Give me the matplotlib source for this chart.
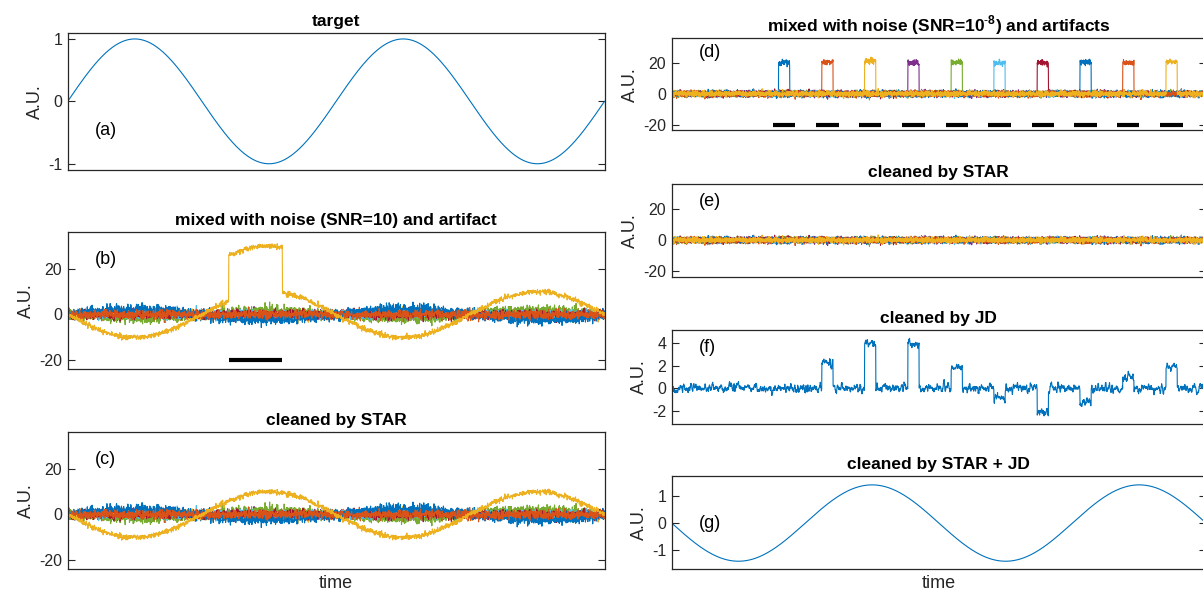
import numpy as np
import matplotlib
matplotlib.use("Agg")
import matplotlib.pyplot as plt

plt.rcParams["font.family"] = ["Liberation Sans", "DejaVu Sans"]
plt.rcParams["mathtext.fontset"] = "custom"
plt.rcParams["mathtext.rm"] = "Liberation Sans"
plt.rcParams["mathtext.bf"] = "Liberation Sans:bold"

# ==============================
# Values
# ==============================

# MATLAB default colour order, 10 channels
colors = ["#0072BD", "#D95319", "#EDB120", "#7E2F8E", "#77AC30",
          "#4DBEEE", "#A2142F", "#0072BD", "#D95319", "#EDB120"]

titles = ["target",
          "mixed with noise (SNR=10) and artifact",
          "cleaned by STAR",
          r"mixed with noise (SNR=10$^{\mathbf{\text{-}8}}$) and artifacts",
          "cleaned by STAR",
          "cleaned by JD",
          "cleaned by STAR + JD"]
letters = ["(a)", "(b)", "(c)", "(d)", "(e)", "(f)", "(g)"]
letter_y = [0.29, 0.80, 0.80, 0.84, 0.81, 0.81, 0.49]

target_amp = 1.0
target_cycles = 2
# gain of the target in each of the 10 mixed channels (panels b, c)
mix_gains = [0.4, 0.0, 0.5, 0.3, -2.0, 0.2, 0.0, 2.5, 0.0, -10.0]
mix_noise = [1.0, 1.0, 1.0, 1.0, 1.0, 1.0, 1.0, 1.1, 1.0, 0.6]
# one artifact in panel b, on the last (yellow) channel
b_art_start, b_art_end = 0.30, 0.40
b_art_height = 20

# panel d: one artifact per channel
d_art_start = [0.200, 0.281, 0.361, 0.442, 0.523, 0.603, 0.684, 0.764, 0.844, 0.925]
d_art_height = [20, 20.5, 21, 20, 20.5, 20, 20, 20.5, 20, 21]
d_art_width = 0.021
d_bar_len = 0.042
d_noise = 0.9

# panel f: JD output, residual level at each artifact window
f_levels = [0.0, 2.2, 4.0, 4.0, 1.8, -0.9, -2.2, -1.3, 0.9, 1.8]
f_noise = 0.22

# panel g: recovered target
g_amp = -1.42

ylims = [(-1.1, 1.1), (-24, 36), (-24, 36), (-23.5, 36), (-24, 36), (-3.2, 5.2), (-1.72, 1.75)]
yticks = [[-1, 0, 1], [-20, 0, 20], [-20, 0, 20], [-20, 0, 20], [-20, 0, 20],
          [-2, 0, 2, 4], [-1, 0, 1]]
ytlabels = [["-1", "0", "1"], ["-20", "0", "20"], ["-20", "0", "20"], ["-20", "0", "20"],
            ["-20", "0", "20"], ["-2", "0", "2", "4"], ["-1", "0", "1"]]

# ==============================
# Signals
# ==============================

rng = np.random.default_rng(7)
n = 2000
t = np.linspace(0, 1, n)
target = target_amp * np.sin(2 * np.pi * target_cycles * t)

clean_mix = [g * target + s * rng.standard_normal(n) for g, s in zip(mix_gains, mix_noise)]
art_mask = (t >= b_art_start) & (t < b_art_end)
dirty_mix = [c.copy() for c in clean_mix]
dirty_mix[-1][art_mask] += b_art_height

n_r = 3000
t_r = np.linspace(0, 1, n_r)
e_chans = [d_noise * rng.standard_normal(n_r) for _ in range(10)]
d_chans = []
for k, c in enumerate(e_chans):
    m = (t_r >= d_art_start[k]) & (t_r < d_art_start[k] + d_art_width)
    x = c.copy()
    x[m] += d_art_height[k]
    d_chans.append(x)

kern = np.ones(6) / 6
f_sig = np.convolve(rng.standard_normal(n_r), kern, mode="same") * f_noise * 2.2
for k, lev in enumerate(f_levels):
    m = (t_r >= d_art_start[k]) & (t_r < d_art_start[k] + d_art_width)
    f_sig[m] += lev

g_sig = g_amp * np.sin(2 * np.pi * target_cycles * t_r)

# ==============================
# Layout (pixel boxes: left, top, right, bottom)
# ==============================

W, H = 1203, 596
boxes = [(67.7, 32.7, 604.5, 170), (67.7, 232.3, 604.5, 369.3), (67.7, 432.3, 604.5, 569.3),
         (671.7, 38.3, 1206, 130), (671.7, 184.3, 1206, 277.3),
         (671.7, 330, 1206, 424), (671.7, 476, 1206, 569.3)]

fig = plt.figure(figsize=(W / 100, H / 100), dpi=100)
axes = []
for (l, tp, r, b) in boxes:
    axes.append(fig.add_axes([l / W, 1 - b / H, (r - l) / W, (b - tp) / H]))

dark = "#262626"
for i, ax in enumerate(axes):
    ax.set_xlim(0, 1)
    ax.set_ylim(*ylims[i])
    ax.set_xticks([])
    ax.set_yticks(yticks[i])
    ax.set_yticklabels(ytlabels[i])
    ax.tick_params(axis="y", direction="in", length=5, width=0.8, right=True,
                   labelsize=11.5, colors=dark, pad=4)
    for s in ax.spines.values():
        s.set_color(dark)
        s.set_linewidth(0.9)
    ax.set_title(titles[i], fontsize=12.5, fontweight="bold", color="black", pad=5)
    ax.set_ylabel("A.U.", fontsize=13, color=dark, labelpad=3)
    ax.text(0.05, letter_y[i], letters[i], transform=ax.transAxes,
            fontsize=13, va="center", ha="left", color="black")

lw = 0.8
axes[0].plot(t, target, color=colors[0], lw=lw)

for k, c in enumerate(dirty_mix):
    axes[1].plot(t, c, color=colors[k], lw=lw)
axes[1].plot([b_art_start, b_art_end], [-20, -20], color="black", lw=3, solid_capstyle="butt")

for k, c in enumerate(clean_mix):
    axes[2].plot(t, c, color=colors[k], lw=lw)

for k, c in enumerate(d_chans):
    axes[3].plot(t_r, c, color=colors[k], lw=lw)
for s in d_art_start:
    mid = s + d_art_width / 2
    axes[3].plot([mid - d_bar_len / 2, mid + d_bar_len / 2], [-20, -20],
                 color="black", lw=3, solid_capstyle="butt")

for k, c in enumerate(e_chans):
    axes[4].plot(t_r, c, color=colors[k], lw=lw)

axes[5].plot(t_r, f_sig, color=colors[0], lw=lw)
axes[6].plot(t_r, g_sig, color=colors[0], lw=lw)

axes[2].set_xlabel("time", fontsize=13, color=dark, labelpad=4)
axes[6].set_xlabel("time", fontsize=13, color=dark, labelpad=4)

fig.savefig("out.png", dpi=100)
plt.close(fig)
